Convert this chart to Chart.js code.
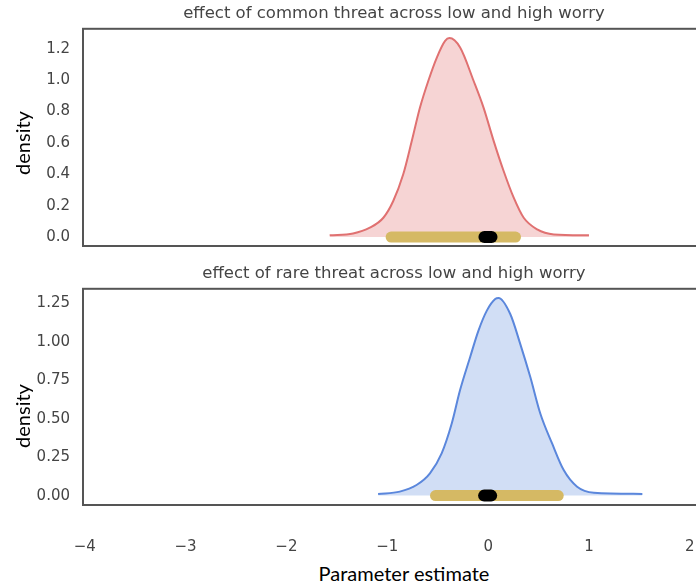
<!DOCTYPE html>
<html>
<head>
<meta charset="utf-8">
<script src="https://cdn.jsdelivr.net/npm/chart.js@4.4.1/dist/chart.umd.min.js"></script>
<style>
  body { margin: 0; background: #fff; }
  #page { position: relative; width: 696px; height: 587px; overflow: hidden; background: #fff; }
  canvas { position: absolute; left: 0; }
  #top { top: 0; }
  #bottom { top: 260px; }
  .lab { position: absolute; font-family: Lato, sans-serif; font-size: 20px; color: #000; white-space: nowrap; transform: translate(-50%, -50%); }
  .rot { transform: translate(-50%, -50%) rotate(-90deg); }
</style>
</head>
<body>
<div id="page">
  <canvas id="top" width="720" height="260"></canvas>
  <canvas id="bottom" width="720" height="300"></canvas>
  <div class="lab rot" style="left:22px; top:143px;">density</div>
  <div class="lab rot" style="left:22px; top:416px;">density</div>
  <div class="lab" style="left:404px; top:573px;">Parameter estimate</div>
</div>
<script>
const xTicks = [-4, -3, -2, -1, 0, 1, 2];
const commonTicks = [0, 0.2, 0.4, 0.6, 0.8, 1.0, 1.2];
const rareTicks = [0, 0.25, 0.5, 0.75, 1.0, 1.25];

// posterior density, common threat
const commonX = [-1.572, -1.34, -1.174, -1.04, -0.942, -0.843, -0.759, -0.677, -0.594, -0.51, -0.428, -0.385,
  -0.279, -0.146, -0.047, 0.053, 0.152, 0.252, 0.351, 0.484, 0.65, 0.998];
const commonDensity = [0.011, 0.023, 0.06, 0.123, 0.23, 0.40, 0.61, 0.825, 0.996, 1.144, 1.25, 1.268,
  1.208, 0.996, 0.825, 0.613, 0.421, 0.251, 0.123, 0.049, 0.017, 0.011];
const commonInterval = [-0.963, 0.27];
const commonMedian = -0.003;

// posterior density, rare threat
const rareX = [-1.091, -0.876, -0.71, -0.577, -0.461, -0.361, -0.279, -0.179, -0.096, -0.013, 0.07, 0.103,
  0.219, 0.318, 0.418, 0.517, 0.634, 0.749, 0.882, 1.048, 1.529];
const rareDensity = [0.011, 0.026, 0.069, 0.145, 0.275, 0.469, 0.685, 0.90, 1.073, 1.203, 1.278, 1.285,
  1.181, 0.987, 0.771, 0.534, 0.339, 0.166, 0.058, 0.019, 0.011];
const rareInterval = [-0.522, 0.695];
const rareMedian = -0.005;

const gold = '#d5b964';
const tickColor = '#444';

const frame = {
  id: 'frame',
  afterDraw(chart) {
    const { ctx, chartArea: a } = chart;
    ctx.save();
    ctx.strokeStyle = '#555';
    ctx.lineWidth = 2;
    ctx.strokeRect(a.left, a.top, a.right - a.left, a.bottom - a.top);
    ctx.restore();
  }
};

const minus = v => (v < 0 ? '\u2212' + Math.abs(v) : String(v));

function panel(id, o) {
  return new Chart(document.getElementById(id), {
    type: 'scatter',
    data: {
      datasets: [
        {
          data: [{ x: o.median - 0.035, y: 0 }, { x: o.median + 0.035, y: 0 }],
          showLine: true, borderColor: '#000', borderWidth: 12, borderCapStyle: 'round',
          pointRadius: 0, order: 0
        },
        {
          data: o.interval.map(x => ({ x, y: 0 })),
          showLine: true, borderColor: gold, borderWidth: 11, borderCapStyle: 'round',
          pointRadius: 0, order: 1
        },
        {
          data: o.xs.map((x, i) => ({ x, y: o.ys[i] })),
          showLine: true, borderColor: o.line, backgroundColor: o.fill, fill: 'origin',
          borderWidth: 2, pointRadius: 0, cubicInterpolationMode: 'monotone', order: 2
        }
      ]
    },
    options: {
      responsive: false,
      animation: false,
      layout: { padding: { left: 0, right: 15, top: 0, bottom: o.showX ? 0 : 5 } },
      plugins: {
        legend: { display: false },
        tooltip: { enabled: false },
        title: {
          display: true, text: o.title, fullSize: false, color: tickColor,
          font: { family: 'DejaVu Sans', size: 16.5, weight: 'normal' },
          padding: { top: 4, bottom: 5 }
        }
      },
      scales: {
        x: {
          type: 'linear', min: -4.017, max: 2.148, display: o.showX,
          grid: { display: false }, border: { display: false },
          ticks: {
            color: tickColor, font: { family: 'DejaVu Sans', size: 15 }, padding: 25,
            maxRotation: 0, autoSkip: false, callback: v => minus(v)
          },
          afterBuildTicks: s => { s.ticks = xTicks.map(v => ({ value: v })); },
          afterFit: s => { s.height = o.showX ? 55 : 0; }
        },
        y: {
          min: o.ymin, max: o.ymax,
          grid: { display: false }, border: { display: false },
          ticks: {
            color: tickColor, font: { family: 'DejaVu Sans', size: 15 }, padding: 5,
            callback: v => v.toFixed(o.digits)
          },
          afterBuildTicks: s => { s.ticks = o.ticks.map(v => ({ value: v })); },
          afterFit: s => { s.width = 83; }
        }
      }
    },
    plugins: [frame]
  });
}

panel('top', {
  title: 'effect of common threat across low and high worry',
  xs: commonX, ys: commonDensity, interval: commonInterval, median: commonMedian,
  line: '#e07171', fill: 'rgba(224,113,113,0.3)',
  ticks: commonTicks, digits: 1, ymin: -0.057, ymax: 1.327, showX: false
});

panel('bottom', {
  title: 'effect of rare threat across low and high worry',
  xs: rareX, ys: rareDensity, interval: rareInterval, median: rareMedian,
  line: '#5b87dc', fill: 'rgba(91,135,220,0.28)',
  ticks: rareTicks, digits: 2, ymin: -0.061, ymax: 1.345, showX: true
});
</script>
</body>
</html>
